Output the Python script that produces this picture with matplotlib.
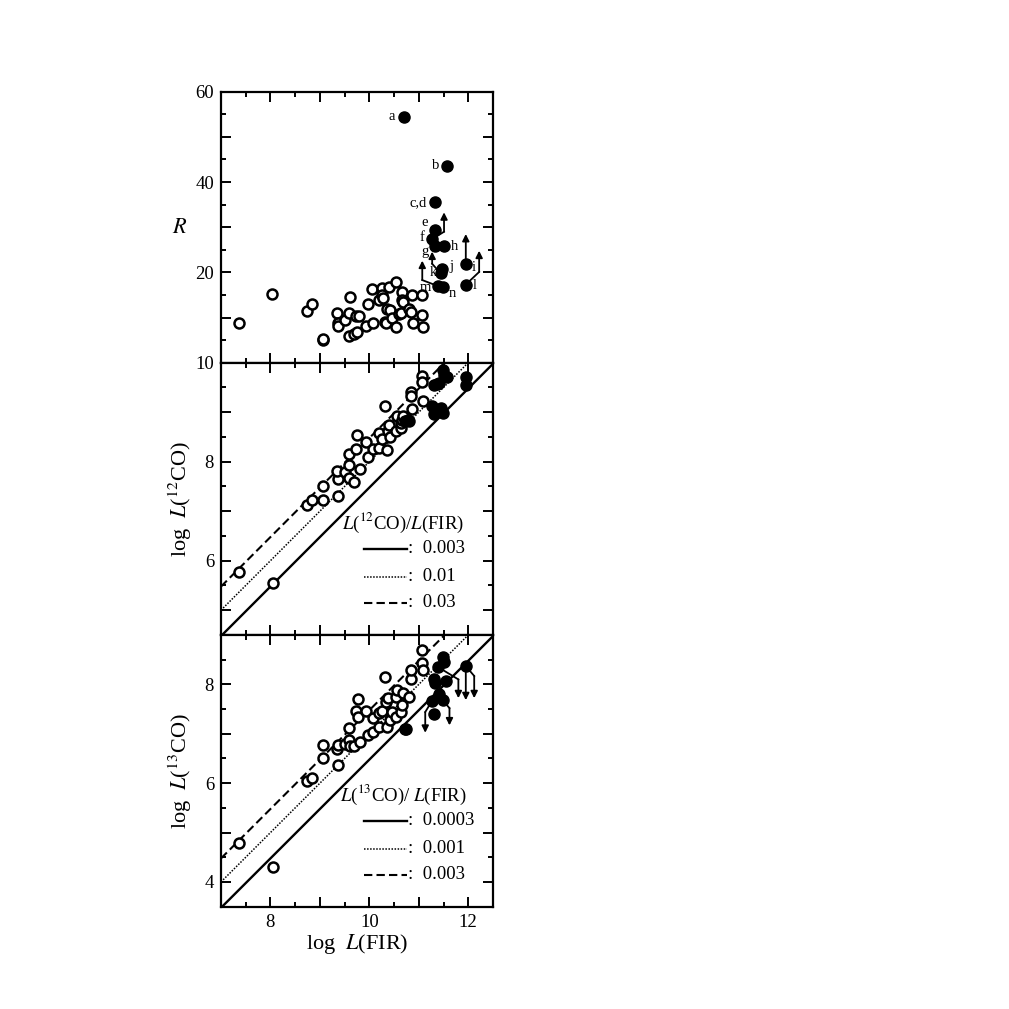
import numpy as np
import matplotlib
matplotlib.use("Agg")
import matplotlib.pyplot as plt
from matplotlib.ticker import MultipleLocator, FuncFormatter

plt.rcParams['font.family'] = ['Liberation Serif', 'DejaVu Serif']
plt.rcParams['mathtext.fontset'] = 'stix'

# ---- top panel: R vs log L(FIR) ----
fir_r_open = [7.36, 8.04, 8.73, 8.85, 9.06, 9.06, 9.34, 9.36, 9.36, 9.51, 9.58, 9.58,
              9.60, 9.68, 9.75, 9.73, 9.80, 9.93, 9.97, 10.05, 10.08, 10.19, 10.26,
              10.26, 10.27, 10.31, 10.34, 10.36, 10.40, 10.42, 10.46, 10.53, 10.53,
              10.60, 10.63, 10.67, 10.67, 10.68, 10.81, 10.85, 10.87, 10.89, 11.07,
              11.07, 11.09]
r_open = [8.9, 15.3, 11.4, 13.1, 5.0, 5.3, 11.0, 8.9, 8.2, 9.4, 6.0, 11.0,
          14.6, 6.3, 6.9, 10.4, 10.3, 8.2, 12.9, 16.3, 8.8, 13.8, 16.5,
          15.0, 14.3, 9.1, 8.8, 12.0, 16.8, 11.7, 10.0, 7.9, 17.9,
          10.7, 11.0, 15.7, 13.9, 13.4, 11.9, 11.2, 15.0, 8.9, 15.0,
          10.6, 7.9]

fir_r_filled = [10.71, 11.56, 11.32, 11.32, 11.27, 11.32, 11.51, 11.95, 11.46, 11.44,
                11.95, 11.38, 11.49]
r_filled = [54.5, 43.6, 35.5, 29.3, 27.3, 25.9, 25.9, 21.8, 20.7, 19.8, 17.3, 17.0, 16.8]
r_names = ['a', 'b', 'c,d', 'e', 'f', 'g', 'h', 'i', 'j', 'k', 'l', 'm', 'n']

# lower limits on R (start, bend, head)
r_limits = [
    [(11.29, 27.5), (11.51, 29.0), (11.51, 33.3)],
    [(11.44, 19.8), (11.27, 21.9), (11.27, 24.6)],
    [(11.38, 17.0), (11.07, 18.3), (11.07, 22.6)],
    [(11.95, 21.8), (11.95, 28.5)],
    [(11.95, 17.3), (12.22, 20.1), (12.22, 24.8)],
]

# ---- middle panel: log L(12CO) ----
fir_12_open = [7.36, 8.05, 8.73, 8.85, 9.06, 9.06, 9.36, 9.36, 9.34, 9.51, 9.59, 9.59,
               9.58, 9.68, 9.73, 9.76, 9.82, 9.93, 9.97, 10.07, 10.19, 10.20, 10.26,
               10.31, 10.36, 10.38, 10.39, 10.42, 10.53, 10.55, 10.65, 10.63, 10.66,
               10.68, 10.81, 10.87, 10.85, 10.85, 11.07, 11.07, 11.08]
co12_open = [5.78, 5.54, 7.13, 7.23, 7.50, 7.23, 7.31, 7.64, 7.81, 7.79, 7.93, 7.66,
             8.16, 7.58, 8.26, 8.53, 7.85, 8.39, 8.09, 8.26, 8.28, 8.57, 8.46,
             9.12, 8.23, 8.61, 8.75, 8.50, 8.61, 8.93, 8.68, 8.78, 8.85,
             8.93, 8.82, 9.06, 9.40, 9.33, 9.73, 9.60, 9.22]
fir_12_filled = [11.49, 11.51, 11.56, 11.31, 11.37, 11.41, 11.96, 11.96, 11.27, 11.31,
                 11.44, 11.48, 10.73, 10.78]
co12_filled = [9.86, 9.76, 9.71, 9.54, 9.56, 9.58, 9.71, 9.54, 9.12, 8.96,
               9.09, 8.99, 8.82, 8.84]
ratios_12 = [0.003, 0.01, 0.03]
labels_12 = ['0.003', '0.01', '0.03']

# ---- bottom panel: log L(13CO) ----
fir_13_open = [7.36, 8.05, 8.73, 8.85, 9.06, 9.06, 9.36, 9.34, 9.36, 9.51, 9.58, 9.58,
               9.60, 9.68, 9.73, 9.77, 9.77, 9.82, 9.93, 9.97, 10.07, 10.07, 10.19,
               10.20, 10.26, 10.31, 10.36, 10.34, 10.38, 10.42, 10.46, 10.53, 10.53,
               10.55, 10.65, 10.66, 10.68, 10.81, 10.85, 10.85, 11.07, 11.07, 11.08]
co13_open = [4.79, 4.31, 6.04, 6.11, 6.77, 6.51, 6.36, 6.70, 6.77, 6.80, 6.87, 7.11,
             6.75, 6.75, 7.46, 7.70, 7.33, 6.84, 7.46, 6.97, 7.31, 7.04, 7.14,
             7.42, 7.46, 8.15, 7.13, 7.65, 7.72, 7.28, 7.44, 7.33, 7.75,
             7.88, 7.44, 7.58, 7.82, 7.75, 8.10, 8.29, 8.43, 8.70, 8.30]
fir_13_filled = [11.48, 11.51, 11.39, 11.31, 11.32, 11.54, 11.95, 11.27, 11.41, 11.48,
                 11.31, 10.72, 10.74]
co13_filled = [8.56, 8.46, 8.35, 8.10, 8.03, 8.07, 8.37, 7.67, 7.80, 7.68,
               7.40, 7.10, 7.09]
ratios_13 = [0.0003, 0.001, 0.003]
labels_13 = ['0.0003', '0.001', '0.003']

# upper limits on L(13CO)
co13_limits = [
    [(11.39, 8.35), (11.80, 8.10), (11.80, 7.72)],
    [(11.95, 8.37), (11.95, 7.68)],
    [(11.95, 8.37), (12.12, 8.17), (12.12, 7.72)],
    [(11.27, 7.67), (11.13, 7.44), (11.13, 7.02)],
    [(11.48, 7.68), (11.62, 7.52), (11.62, 7.17)],
]

styles = [dict(ls='-', lw=1.7), dict(ls=(0, (1, 1)), lw=1.1), dict(ls=(0, (4, 2)), lw=1.5)]
open_kw = dict(ls='none', marker='o', mfc='white', mec='black', ms=7.2, mew=1.8)
fill_kw = dict(ls='none', marker='o', color='black', ms=8)


def even_only(v, pos):
    if abs(v - round(v)) < 1e-6 and int(round(v)) % 2 == 0:
        return str(int(round(v)))
    return ''


def style_axis(ax, ymaj, ymin, yfmt):
    ax.set_xlim(7, 12.5)
    ax.xaxis.set_major_locator(MultipleLocator(1))
    ax.xaxis.set_minor_locator(MultipleLocator(0.5))
    ax.xaxis.set_major_formatter(FuncFormatter(even_only))
    ax.yaxis.set_major_locator(MultipleLocator(ymaj))
    ax.yaxis.set_minor_locator(MultipleLocator(ymin))
    ax.yaxis.set_major_formatter(FuncFormatter(yfmt))
    ax.tick_params(which='both', direction='in', top=True, right=True, width=1.4,
                   labelsize=13.5, pad=5)
    ax.tick_params(which='major', length=7)
    ax.tick_params(which='minor', length=3.5)
    for s in ax.spines.values():
        s.set_linewidth(1.6)


def draw_limit(ax, path):
    xs = [p[0] for p in path]
    ys = [p[1] for p in path]
    if len(path) > 2:
        ax.plot(xs[:-1], ys[:-1], color='k', lw=1.3)
    ax.annotate('', xy=path[-1], xytext=path[-2],
                arrowprops=dict(arrowstyle='-|>', color='k', lw=1.3,
                                mutation_scale=10, shrinkA=0, shrinkB=0))


def ratio_legend(ax, title, ratio_labels):
    ax.text(0.669, 0.41, title, transform=ax.transAxes, ha='center', va='center',
            fontsize=13.5)
    rows = [0.316, 0.213, 0.1175]
    for st, lab, yy in zip(styles, ratio_labels, rows):
        ax.plot([0.526, 0.684], [yy, yy], transform=ax.transAxes, color='k', **st)
        ax.text(0.688, yy, ':  ' + lab, transform=ax.transAxes, ha='left',
                va='center', fontsize=13.5)


fig = plt.figure(figsize=(10.09, 10.09), dpi=100)
ax1 = fig.add_axes([0.219, 0.6405, 0.2696, 0.2686])
ax2 = fig.add_axes([0.219, 0.3707, 0.2696, 0.2699])
ax3 = fig.add_axes([0.219, 0.1014, 0.2696, 0.2693])

# top panel
style_axis(ax1, 10, 5, lambda v, p: str(int(v)) if v > 0 and int(v) % 20 == 0 else '')
ax1.set_ylim(0, 60)
ax1.plot(fir_r_open, r_open, **open_kw)
ax1.plot(fir_r_filled, r_filled, **fill_kw)
for path in r_limits:
    draw_limit(ax1, path)
name_pos = {'a': (10.46, 54.5), 'b': (11.34, 43.6), 'c,d': (10.99, 35.5),
            'e': (11.12, 31.0), 'f': (11.07, 27.8), 'g': (11.12, 24.6),
            'h': (11.72, 25.7), 'i': (12.12, 21.0), 'j': (11.66, 21.4),
            'k': (11.29, 20.0), 'l': (12.14, 17.0), 'm': (11.14, 16.6),
            'n': (11.67, 15.4)}
for nm in r_names:
    ax1.text(*name_pos[nm], nm, ha='center', va='center', fontsize=10.5)
ax1.tick_params(labelbottom=False)
ax1.set_ylabel('$R$', fontsize=16, rotation=0)
ax1.yaxis.set_label_coords(-0.15, 0.46)

# middle panel
style_axis(ax2, 1, 0.5, even_only)
ax2.set_ylim(4.5, 10)
xx = np.array([7.0, 12.5])
for r, st in zip(ratios_12, styles):
    ax2.plot(xx, xx + np.log10(r), color='k', **st)
ax2.plot(fir_12_open, co12_open, **open_kw)
ax2.plot(fir_12_filled, co12_filled, **fill_kw)
ratio_legend(ax2, r'$L$($^{12}$CO)/$L$(FIR)', labels_12)
ax2.tick_params(labelbottom=False)
ax2.set_ylabel(r'log  $L$($^{12}$CO)', fontsize=16)
ax2.yaxis.set_label_coords(-0.1, 0.5)

# bottom panel
style_axis(ax3, 1, 0.5, even_only)
ax3.set_ylim(3.5, 9)
for r, st in zip(ratios_13, styles):
    ax3.plot(xx, xx + np.log10(r), color='k', **st)
ax3.plot(fir_13_open, co13_open, **open_kw)
ax3.plot(fir_13_filled, co13_filled, **fill_kw)
for path in co13_limits:
    draw_limit(ax3, path)
ratio_legend(ax3, r'$L$($^{13}$CO)/ $L$(FIR)', labels_13)
ax3.set_ylabel(r'log  $L$($^{13}$CO)', fontsize=16)
ax3.yaxis.set_label_coords(-0.1, 0.5)
ax3.set_xlabel(r'log  $L$(FIR)', fontsize=16, labelpad=1)

fig.savefig('out.png', dpi=100)
